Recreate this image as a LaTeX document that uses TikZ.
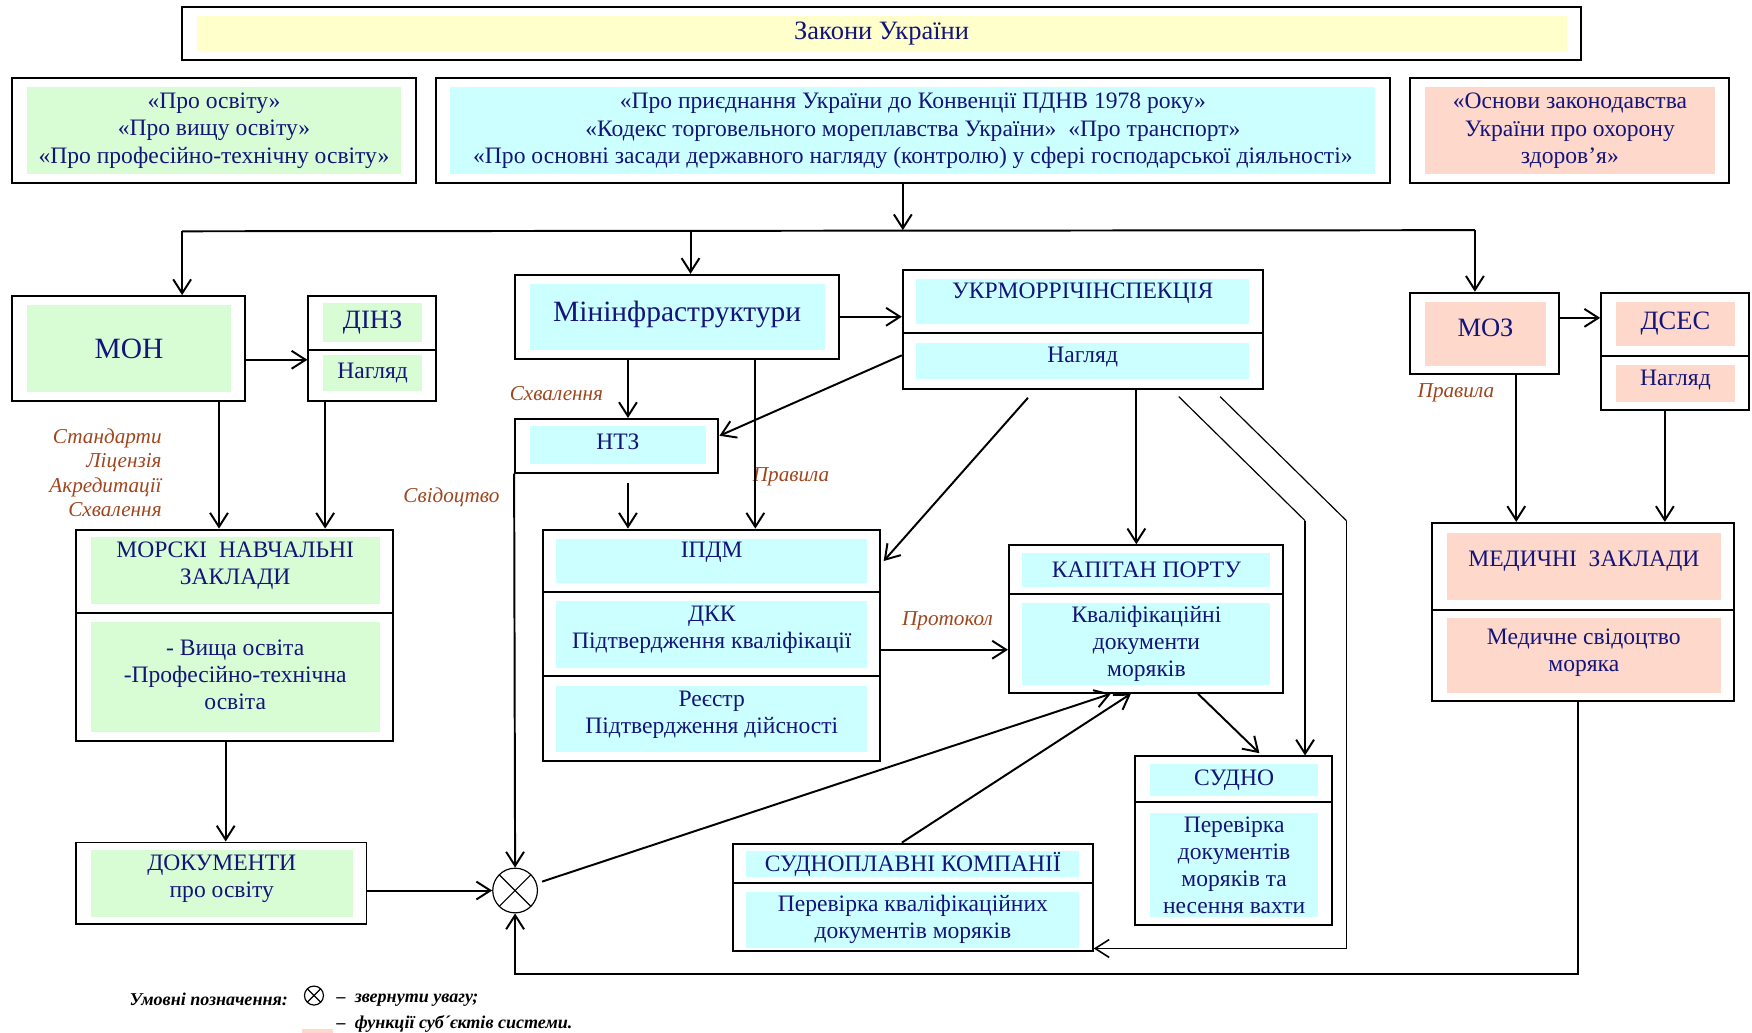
\documentclass[tikz,border=0pt]{standalone}
\usepackage{fontspec}
\setmainfont{Liberation Serif}
\usetikzlibrary{arrows.meta,fit,calc}
\definecolor{grn}{HTML}{D8FDD5}
\definecolor{cyn}{HTML}{CCFFFF}
\definecolor{pnk}{HTML}{FDD8CB}
\definecolor{ylw}{HTML}{FFFFCC}
\definecolor{txt}{HTML}{14147A}
\definecolor{lab}{HTML}{A0461E}
\begin{document}
\begin{tikzpicture}[x=0.2mm, y=-0.2mm,
	frame/.style={draw, line width=1pt, inner sep=0pt},
	divl/.style={line width=1pt},
	tx/.style={inner sep=0pt, align=center, text=txt, font=\fontsize{12}{13.8}\selectfont},
	gr/.style={inner sep=0pt, fill=grn},
	cy/.style={inner sep=0pt, fill=cyn},
	pk/.style={inner sep=0pt, fill=pnk},
	yl/.style={inner sep=0pt, fill=ylw},
	big/.style={font=\fontsize{15}{18}\selectfont},
	head/.style={font=\fontsize{13.5}{16}\selectfont},
	lbl/.style={text=lab, font=\itshape\fontsize{10.8}{12.5}\selectfont, inner sep=0pt, align=right},
	leg/.style={font=\bfseries\itshape\fontsize{9.2}{11}\selectfont, inner sep=0pt},
	arr/.style={-{Straight Barb[length=2.5mm,width=3.2mm]}, line width=1pt},
	ln/.style={line width=1pt},
	thin/.style={line width=0.6pt},
	xcirc/.style={circle, draw, line width=0.6pt, inner sep=0pt, minimum size=#1,
		path picture={\draw[line width=0.6pt] (path picture bounding box.north west) -- (path picture bounding box.south east)
		(path picture bounding box.south west) -- (path picture bounding box.north east);}}]
\useasboundingbox (0,0) rectangle (1568,924);

% laws
\node[frame, fit={(163,6) (1415,54)}] (zak) {};
\node[yl, fit={(176,14) (1402,46)}, label={[tx, font=\fontsize{13.5}{16}\selectfont]center:Закони України}] (zak-t) {};
\node[frame, fit={(11,70) (372,164)}] (lz1) {};
\node[gr, fit={(24,78) (359,156)}, label={[tx]center:«Про освіту»\\«Про вищу освіту»\\«Про професійно-технічну освіту»}] (lz1-t) {};
\node[frame, fit={(390,70) (1244,164)}] (lz2) {};
\node[cy, fit={(403,78) (1231,156)}, label={[tx]center:«Про приєднання України до Конвенції ПДНВ 1978 року»\\«Кодекс торговельного мореплавства України»\ \ «Про транспорт»\\«Про основні засади державного нагляду (контролю) у сфері господарської діяльності»}] (lz2-t) {};
\node[frame, fit={(1262,70) (1547,164)}] (lz3) {};
\node[pk, fit={(1275,78) (1535,156)}, label={[tx]center:«Основи законодавства\\України про охорону\\здоров’я»}] (lz3-t) {};

% ministries
\node[frame, fit={(11,265) (219,359)}] (mon) {};
\node[gr, fit={(24,273) (207,351)}, label={[tx, big]center:МОН}] (mon-t) {};
\node[frame, fit={(276,265) (390,359)}] (dinz) {};
\draw[divl] (276,313) -- (390,313);
\node[gr, fit={(289,271) (378,306)}, label={[tx, head]center:ДІНЗ}] (dinz-t) {};
\node[gr, fit={(289,318) (378,350)}, label={[tx]center:Нагляд}] (dinz-f) {};
\node[frame, fit={(461,246) (751,321)}] (minf) {};
\node[cy, fit={(474,254) (738,313)}, label={[tx, big, yshift=0.4mm]center:Мінінфраструктури}] (minf-t) {};
\node[frame, fit={(808,242) (1130,348)}] (ukr) {};
\draw[divl] (808,298) -- (1130,298);
\node[cy, fit={(820,250) (1118,290)}, label={[tx, yshift=1.6mm]center:УКРМОРРІЧІНСПЕКЦІЯ}] (ukr-t) {};
\node[cy, fit={(820,307) (1118,339)}, label={[tx, yshift=0.6mm]center:Нагляд}] (ukr-f) {};
\node[frame, fit={(1262,262) (1395,335)}] (moz) {};
\node[pk, fit={(1275,270) (1384,328)}, label={[tx, head, yshift=1.2mm]center:МОЗ}] (moz-t) {};
\node[frame, fit={(1433,262) (1565,367)}] (dses) {};
\draw[divl] (1433,319) -- (1565,319);
\node[pk, fit={(1446,270) (1553,310)}, label={[tx, head]center:ДСЕС}] (dses-t) {};
\node[pk, fit={(1446,327) (1553,360)}, label={[tx, yshift=0.6mm]center:Нагляд}] (dses-f) {};

% executors
\node[frame, fit={(68,474) (352,663)}] (mns) {};
\draw[divl] (68,549) -- (352,549);
\node[gr, fit={(81,481) (340,541)}, label={[tx, yshift=0.9mm]center:МОРСКІ\ \ НАВЧАЛЬНІ\\ЗАКЛАДИ}] (mns-t) {};
\node[gr, fit={(81,557) (340,655)}, label={[tx, yshift=0.4mm]center:- Вища освіта\\-Професійно-технічна\\освіта}] (mns-f) {};
\node[frame, fit={(68,754) (328,827)}] (dok) {};
\node[gr, fit={(81,761) (316,821)}, label={[tx, yshift=0.9mm]center:ДОКУМЕНТИ\\про освіту}] (dok-t) {};
\node[frame, fit={(461,375) (643,423)}] (ntz) {};
\node[cy, fit={(474,381) (632,415)}, label={[tx, yshift=0.6mm]center:НТЗ}] (ntz-t) {};
\node[frame, fit={(486,474) (788,681)}] (ipdm) {};
\draw[divl] (486,530) -- (788,530);
\draw[divl] (486,605) -- (788,605);
\node[cy, fit={(498,482) (776,522)}, label={[tx, yshift=1.6mm]center:ІПДМ}] (ipdm-t) {};
\node[cy, fit={(498,538) (776,598)}, label={[tx, yshift=0.8mm]center:ДКК\\Підтвердження кваліфікації}] (ipdm-f) {};
\node[cy, fit={(498,614) (776,673)}, label={[tx, yshift=0.7mm]center:Реєстр\\Підтвердження дійсності}] (ipdm-r) {};
\node[frame, fit={(903,488) (1148,620)}] (kap) {};
\draw[divl] (903,532) -- (1148,532);
\node[cy, fit={(915,495) (1137,525)}, label={[tx]center:КАПІТАН ПОРТУ}] (kap-t) {};
\node[cy, fit={(915,540) (1137,613)}, label={[tx]center:Кваліфікаційні\\документи\\моряків}] (kap-f) {};
\node[frame, fit={(1016,677) (1192,828)}] (sud) {};
\draw[divl] (1016,718) -- (1192,718);
\node[cy, fit={(1029,684) (1180,712)}, label={[tx]center:СУДНО}] (sud-t) {};
\node[cy, fit={(1029,728) (1180,821)}, label={[tx]center:Перевірка\\документів\\моряків та\\несення вахти}] (sud-f) {};
\node[frame, fit={(656,755) (978,851)}] (spk) {};
\draw[divl] (656,790) -- (978,790);
\node[cy, fit={(668,762) (966,785)}, label={[tx]center:СУДНОПЛАВНІ КОМПАНІЇ}] (spk-t) {};
\node[cy, fit={(668,798) (966,848)}, label={[tx]center:Перевірка кваліфікаційних\\документів моряків}] (spk-f) {};
\node[frame, fit={(1282,468) (1552,627)}] (med) {};
\draw[divl] (1282,546) -- (1552,546);
\node[pk, fit={(1295,477) (1540,537)}, label={[tx, yshift=1mm]center:МЕДИЧНІ\ \ ЗАКЛАДИ}] (med-t) {};
\node[pk, fit={(1295,553) (1540,620)}, label={[tx, yshift=0.4mm]center:Медичне свідоцтво\\моряка}] (med-f) {};
\node[xcirc=8mm] (ox) at (461,797) {};

% labels
\node[lbl, anchor=north east] (l1) at (145,383) {Стандарти\\Ліцензія\\Акредитації\\Схвалення};
\node[lbl] (l2) at (404,445) {Свідоцтво};
\node[lbl] (l3) at (498,352) {Схвалення};
\node[lbl] (l4) at (708,427) {Правила};
\node[lbl] (l5) at (848,556) {Протокол};
\node[lbl] (l6) at (1303,352) {Правила};

% links
\coordinate (jl) at (163,207);
\coordinate (jm) at (618,207);
\coordinate (jc) at (808,206);
\coordinate (jr) at (1320,206);
\draw[arr] (lz2.south -| jc) -- (jc);
\draw[ln] (jl) -- (jr);
\draw[arr] (jl) -- (jl |- mon.north);
\draw[arr] (jm) -- (jm |- minf.north);
\draw[arr] (jr) -- (jr |- moz.north);

\coordinate (c1) at (196,0);
\coordinate (c2) at (291,0);
\coordinate (c3) at (202,0);
\coordinate (c4) at (562,0);
\coordinate (c5) at (676,0);
\coordinate (c6) at (1017,0);
\coordinate (c7) at (1357,0);
\coordinate (c8) at (1490,0);
\draw[arr] ($(mon.east)+(0,10)$) -- ($(dinz.west)+(0,10)$);
\draw[arr] (mon.south -| c1) -- (mns.north -| c1);
\draw[arr] (dinz.south -| c2) -- (mns.north -| c2);
\draw[arr] (mns.south -| c3) -- (dok.north -| c3);
\draw[arr] (dok.east |- ox) -- (ox.west);
\draw[arr] (minf.east) -- (minf.east -| ukr.west);
\draw[arr] (minf.south -| c4) -- (ntz.north -| c4);
\draw[arr] ($(ntz.south -| c4)+(0,8)$) -- (ipdm.north -| c4);
\draw[arr] (minf.south -| c5) -- (ipdm.north -| c5);
\draw[arr] (ntz.south west) -- (ox.north);
\draw[arr] ($(ukr.west)+(0,23)$) -- ($(ntz.east)+(0,-9)$);
\coordinate (u1) at (920,356);
\draw[arr] (u1) -- ($(ipdm.north east)+(2,29)$);
\draw[arr] (ukr.south -| c6) -- (kap.north -| c6);
\draw[arr] ($(ipdm.east)+(0,4)$) -- ($(ipdm.east -| kap.west)+(0,4)$);
\coordinate (u2) at (1055,355);
\coordinate (b2) at (1168,466);
\draw[thin] (u2) -- (b2);
\draw[arr] (b2) -- (b2 |- sud.north);
\coordinate (u3) at (1092,355);
\coordinate (b3) at (1205,466);
\draw[thin] (u3) -- (b3);
\draw[arr, line width=0.8pt] (b3) |- ($(spk.south east)+(0,-3)$);
\draw[arr] ($(kap.south west)+(170,0)$) -- ($(sud.north west)+(112,-2)$);
\draw[arr, shorten <=1mm] (ox) -- ($(kap.south west)+(92,0)$);
\draw[arr] ($(spk.north west)+(152,0)$) -- ($(kap.south west)+(110,0)$);
\draw[arr] ($(moz.east)+(0,-14)$) -- ($(moz.east -| dses.west)+(0,-14)$);
\draw[arr] (moz.south -| c7) -- (med.north -| c7);
\draw[arr] (dses.south -| c8) -- (med.north -| c8);
\coordinate (lp) at (461,872);
\draw[arr] ($(med.south west)+(131,0)$) |- (lp) -- (ox.south);

% legend
\node[leg, anchor=east] (leg-t) at (258,894) {Умовні позначення:};
\node[xcirc=3.4mm] (leg-o) at (281,891) {};
\node[leg, anchor=west] (leg-1) at (301,895) {–\ \ звернути увагу;};
\node[leg, anchor=west] (leg-2) at (301,916) {–\ \ функції суб´єктів системи.};
\fill[pnk] (270,921) rectangle (298,932);
\end{tikzpicture}
\end{document}
